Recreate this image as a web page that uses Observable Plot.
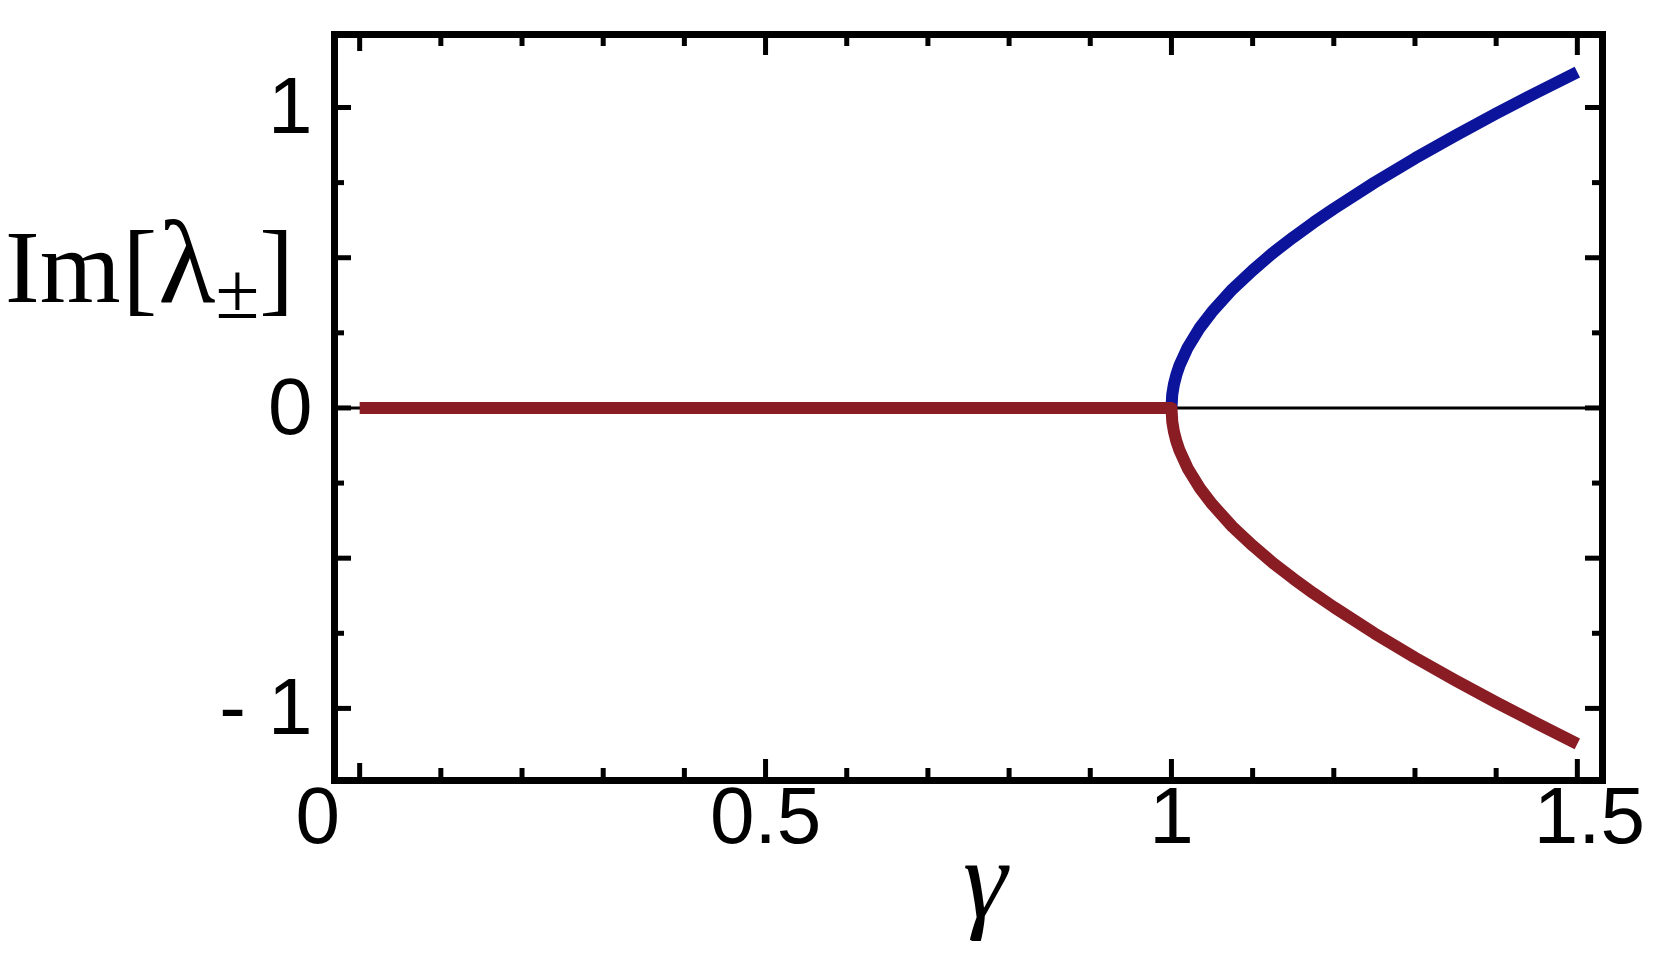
<!DOCTYPE html>
<html>
<head>
<meta charset="utf-8">
<script src="https://cdn.jsdelivr.net/npm/d3@7"></script>
<script src="https://cdn.jsdelivr.net/npm/@observablehq/plot@0.6"></script>
<style>
  html, body { margin: 0; padding: 0; background: #fff; }
  #chart svg { display: block; }
</style>
</head>
<body>
<div id="chart"></div>
<script>
// γ values for the branch region
const gammaBranch = [1, 1.001, 1.003, 1.006, 1.01, 1.02, 1.035, 1.05, 1.075, 1.1, 1.125, 1.15, 1.175, 1.2, 1.25, 1.3, 1.35, 1.4, 1.45, 1.5];
// Im[λ+] upper branch (blue)
const imPlus = [0, 0.045, 0.078, 0.11, 0.142, 0.201, 0.267, 0.32, 0.395, 0.458, 0.516, 0.568, 0.617, 0.663, 0.75, 0.831, 0.907, 0.98, 1.05, 1.118];
// Im[λ−] lower branch (red), flat at 0 for γ < 1
const gammaFlat = [0, 0.25, 0.5, 0.75, 0.99];
const imFlat = [0, 0, 0, 0, 0];
const imMinus = imPlus.map(v => -v);

// ticks
const xMajor = [0.5, 1, 1.5];
const xZero = [0];
const xMinor = [0.1, 0.2, 0.3, 0.4, 0.6, 0.7, 0.8, 0.9, 1.1, 1.2, 1.3, 1.4];
const yMajor = [-1, -0.5, 0, 0.5, 1];
const yMinor = [-0.75, -0.25, 0.25, 0.75];
const xLabels = ["0", "0.5", "1", "1.5"];
const yLabelVals = [-1, 0, 1];
const yLabels = ["- 1", "0", "1"];

const plusData = gammaBranch.map((g, i) => ({g, v: imPlus[i]}));
const minusData = gammaFlat.map((g, i) => ({g, v: imFlat[i]}))
  .concat(gammaBranch.map((g, i) => ({g, v: imMinus[i]})));

const W = 1655, H = 960;
const mL = 334, mR = 53, mT = 34, mB = 180;
const plotH = H - mT - mB;
const plotW = W - mL - mR;

const tickFont = "Liberation Sans, Arial, Helvetica, sans-serif";
const fs = 80;
const tw = 5;

const chart = Plot.plot({
  width: W,
  height: H,
  marginLeft: mL,
  marginRight: mR,
  marginTop: mT,
  marginBottom: mB,
  x: {domain: [-0.031, 1.531], axis: null},
  y: {domain: [-1.24, 1.243], axis: null},
  style: {background: "#fff", overflow: "visible"},
  marks: [
    Plot.ruleY([0], {stroke: "#000", strokeWidth: 3}),
    Plot.line(plusData, {x: "g", y: "v", stroke: "#0b149b", strokeWidth: 12, strokeLinecap: "butt", strokeLinejoin: "round"}),
    Plot.line(minusData, {x: "g", y: "v", stroke: "#8a1c24", strokeWidth: 12, strokeLinecap: "butt", strokeLinejoin: "round"}),
    // bottom ticks
    Plot.tickX(xMajor, {x: d => d, stroke: "#000", strokeWidth: tw, insetTop: plotH - 21}),
    Plot.tickX(xZero, {x: d => d, stroke: "#000", strokeWidth: tw, insetTop: plotH - 17}),
    Plot.tickX(xMinor, {x: d => d, stroke: "#000", strokeWidth: tw, insetTop: plotH - 12}),
    // top ticks
    Plot.tickX(xMajor, {x: d => d, stroke: "#000", strokeWidth: tw, insetBottom: plotH - 21}),
    Plot.tickX(xZero, {x: d => d, stroke: "#000", strokeWidth: tw, insetBottom: plotH - 17}),
    Plot.tickX(xMinor, {x: d => d, stroke: "#000", strokeWidth: tw, insetBottom: plotH - 12}),
    // left ticks
    Plot.tickY(yMajor, {y: d => d, stroke: "#000", strokeWidth: tw, insetRight: plotW - 17}),
    Plot.tickY(yMinor, {y: d => d, stroke: "#000", strokeWidth: tw, insetRight: plotW - 10}),
    // right ticks
    Plot.tickY(yMajor, {y: d => d, stroke: "#000", strokeWidth: tw, insetLeft: plotW - 17}),
    Plot.tickY(yMinor, {y: d => d, stroke: "#000", strokeWidth: tw, insetLeft: plotW - 10}),
    Plot.frame({stroke: "#000", strokeWidth: 7}),
    // x tick labels
    Plot.text(xZero, {x: d => d, text: () => xLabels[0], frameAnchor: "bottom", dy: 62, dx: -42, fontSize: fs, fontFamily: tickFont, fill: "#000"}),
    Plot.text([0.5, 1], {x: d => d, text: (d, i) => xLabels[i + 1], frameAnchor: "bottom", dy: 62, fontSize: fs, fontFamily: tickFont, fill: "#000"}),
    Plot.text([1.5], {x: d => d, text: () => xLabels[3], frameAnchor: "bottom", dy: 62, dx: 12, fontSize: fs, fontFamily: tickFont, fill: "#000"}),
    // y tick labels
    Plot.text(yLabelVals, {y: d => d, text: (d, i) => yLabels[i], frameAnchor: "left", textAnchor: "end", dx: -22, fontSize: fs, fontFamily: tickFont, fill: "#000"})
  ]
});

document.getElementById("chart").appendChild(chart);

const svg = d3.select(chart);
const serif = "Liberation Serif, Times New Roman, Times, serif";
// y axis label
const yl = svg.append("text")
  .attr("x", 5).attr("y", 302)
  .attr("text-anchor", "start")
  .attr("font-family", serif).attr("font-size", 104).attr("fill", "#000");
yl.append("tspan").text("Im");
yl.append("tspan").attr("dx", 2).text("[");
yl.append("tspan").attr("font-size", 118).attr("dx", 1).text("λ");
yl.append("tspan").attr("font-size", 80).attr("dy", 16).text("±");
yl.append("tspan").attr("dy", -16).attr("dx", 0).text("]");
// x axis label
svg.append("text")
  .attr("x", 985).attr("y", 917)
  .attr("text-anchor", "middle")
  .attr("font-family", serif).attr("font-style", "italic").attr("font-size", 112).attr("fill", "#000")
  .text("γ");
</script>
</body>
</html>
